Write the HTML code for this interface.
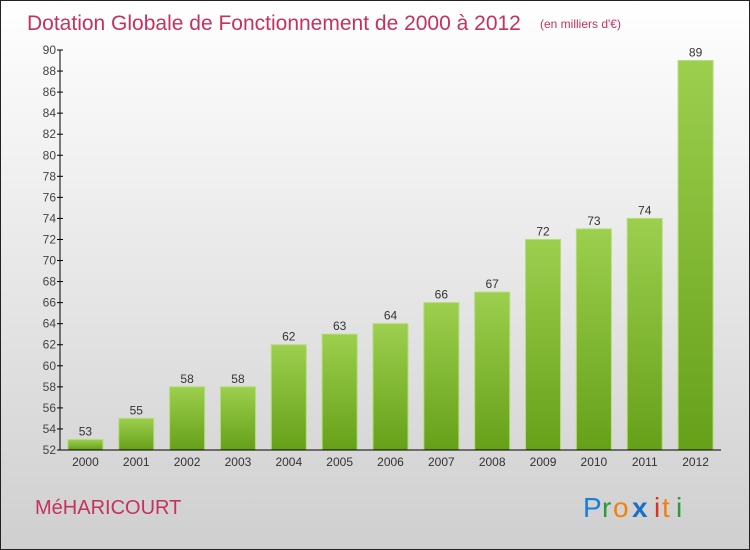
<!DOCTYPE html>
<html><head><meta charset="utf-8"><style>
html,body{margin:0;padding:0}
body{width:750px;height:550px;overflow:hidden;font-family:"Liberation Sans",sans-serif}
#frame{position:absolute;left:0;top:0;width:748px;height:548px;border:1px solid #222;background:linear-gradient(#ffffff,#cfcfcf)}
</style></head><body>
<div id="frame">
<svg id="chart" width="750" height="550" style="position:absolute;left:-1px;top:-1px">
<defs><linearGradient id="bg" x1="0" y1="0" x2="0" y2="1"><stop offset="0" stop-color="#9ccf4e"/><stop offset="1" stop-color="#66a019"/></linearGradient></defs>
<text x="27" y="30" font-size="21" fill="#c4325e">Dotation Globale de Fonctionnement de 2000 à 2012</text>
<text x="540" y="28" font-size="12" fill="#c4325e">(en milliers d'€)</text>
<text x="35" y="514" font-size="20" fill="#c4325e">MéHARICOURT</text>
<g font-size="28">
<text x="583" y="517" fill="#1a7fd6">P</text><text x="602" y="517" fill="#2a9a3a">r</text><text x="613" y="517" fill="#f08010">o</text><text x="632" y="517" fill="#1a6fc6" font-weight="bold">x</text><text x="654" y="517" fill="#e03020">i</text><text x="662" y="517" fill="#f08010">t</text><text x="676" y="517" fill="#2a9a3a">i</text>
</g>
<g id="bars"></g><g id="axes"></g>
</svg></div>
<script>
const categories=["2000","2001","2002","2003","2004","2005","2006","2007","2008","2009","2010","2011","2012"];
const values=[53,55,58,58,62,63,64,66,67,72,73,74,89];
const yTicks=[52,54,56,58,60,62,64,66,68,70,72,74,76,78,80,82,84,86,88,90];
const NS="http://www.w3.org/2000/svg";
const x0=60,x1=721,yTop=50,yBot=450,yMin=52,yMax=90;
const y=v=>yBot-(v-yMin)/(yMax-yMin)*(yBot-yTop);
const band=(x1-x0)/categories.length;
const xc=i=>x0+band*(i+0.5);
function mk(t,a,p){const e=document.createElementNS(NS,t);for(const k in a)e.setAttribute(k,a[k]);p.appendChild(e);return e;}
const bars=document.getElementById('bars'),axes=document.getElementById('axes');
values.forEach((v,i)=>{
 const r=mk('rect',{x:xc(i)-17.5,y:y(v),width:35,height:yBot-y(v),fill:'url(#bg)',stroke:'#b5dc7a','stroke-width':1},bars);
 
 
 const t=mk('text',{x:xc(i),y:y(v)-4,'text-anchor':'middle','font-size':12,fill:'#333'},bars);
 t.textContent=v;
 
 
 const c=mk('text',{x:xc(i),y:466,'text-anchor':'middle','font-size':12,fill:'#333'},axes);
 c.textContent=categories[i];
 
 
});
const ya=mk('line',{x1:x0,y1:yTop,x2:x0,y2:yBot,stroke:'#000'},axes);


const xa=mk('line',{x1:x0,y1:yBot,x2:x1,y2:yBot,stroke:'#000'},axes);


yTicks.forEach(v=>{
 mk('line',{x1:x0-3,y1:y(v),x2:x0+3,y2:y(v),stroke:'#000'},axes);
 const t=mk('text',{x:x0-4,y:y(v)+4,'text-anchor':'end','font-size':12,fill:'#444'},axes);
 t.textContent=v;
 
 
});
</script>
</body></html>
